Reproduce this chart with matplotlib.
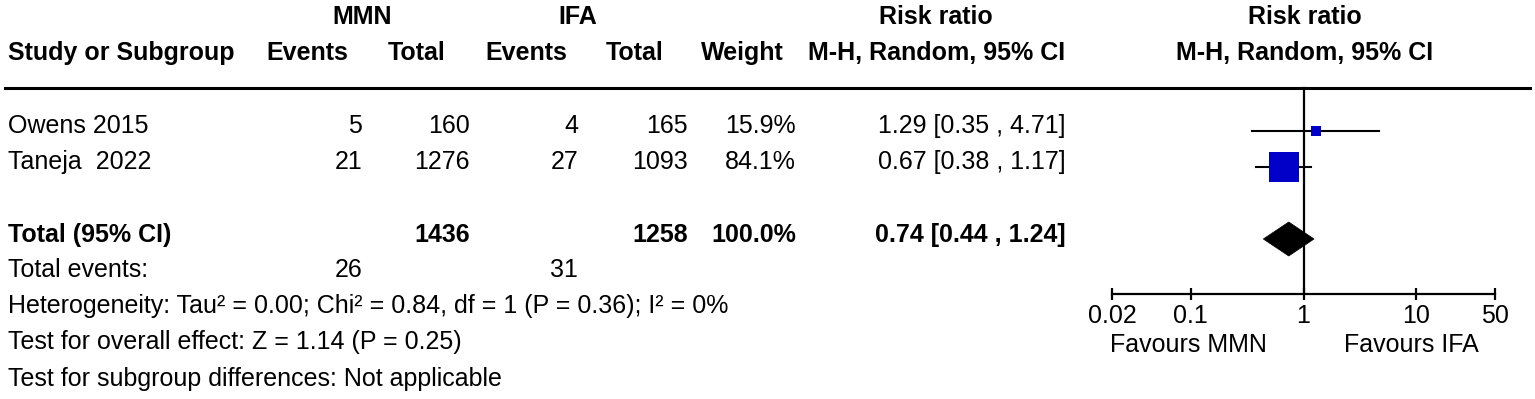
import matplotlib
matplotlib.use('Agg')
import matplotlib.pyplot as plt
from matplotlib.patches import Polygon

plt.rcParams['font.family'] = ['Liberation Sans', 'DejaVu Sans']
plt.rcParams['font.size'] = 18

# Study data
studies = ['Owens 2015', 'Taneja  2022']
mmn_events = [5, 21]
mmn_total = [160, 1276]
ifa_events = [4, 27]
ifa_total = [165, 1093]
weights = [15.9, 84.1]
rr = [1.29, 0.67]
rr_lo = [0.35, 0.38]
rr_hi = [4.71, 1.17]

# Pooled estimate
pooled = [0.74, 0.44, 1.24]
footer = ['Heterogeneity: Tau² = 0.00; Chi² = 0.84, df = 1 (P = 0.36); I² = 0%',
          'Test for overall effect: Z = 1.14 (P = 0.25)',
          'Test for subgroup differences: Not applicable']

ticks = [0.02, 0.1, 1, 10, 50]
tick_labels = ['0.02', '0.1', '1', '10', '50']

W, H = 1535, 399
BLUE = '#0000C8'

fig = plt.figure(figsize=(W / 100, H / 100), dpi=100)

# text layer in pixel coordinates
ax = fig.add_axes([0, 0, 1, 1])
ax.set_xlim(0, W)
ax.set_ylim(H, 0)
ax.axis('off')

# column positions (right edges for numbers, centres for headers)
col_right = [362, 470, 578, 688, 796, 1066]
col_head = [307, 417, 526, 635, 742, 937]
head2 = ['Events', 'Total', 'Events', 'Total', 'Weight', 'M-H, Random, 95% CI']

ax.text(362, 24, 'MMN', ha='center', fontweight='bold')
ax.text(578, 24, 'IFA', ha='center', fontweight='bold')
ax.text(936, 24, 'Risk ratio', ha='center', fontweight='bold')
ax.text(1305, 24, 'Risk ratio', ha='center', fontweight='bold')
ax.text(8, 60, 'Study or Subgroup', ha='left', fontweight='bold')
for x, t in zip(col_head, head2):
    ax.text(x, 60, t, ha='center', fontweight='bold')
ax.text(1305, 60, 'M-H, Random, 95% CI', ha='center', fontweight='bold')
ax.plot([5, 1530], [88, 88], color='black', lw=2.2)

row_y = [131, 167]
for i, name in enumerate(studies):
    yb = row_y[i] + 2
    ax.text(8, yb, name, ha='left')
    vals = [str(mmn_events[i]), str(mmn_total[i]), str(ifa_events[i]),
            str(ifa_total[i]), '{:.1f}%'.format(weights[i]),
            '{:.2f} [{:.2f} , {:.2f}]'.format(rr[i], rr_lo[i], rr_hi[i])]
    for x, v in zip(col_right, vals):
        ax.text(x, yb, v, ha='right')

total_y = 239
ax.text(8, total_y + 3, 'Total (95% CI)', ha='left', fontweight='bold')
ax.text(col_right[1], total_y + 3, str(sum(mmn_total)), ha='right', fontweight='bold')
ax.text(col_right[3], total_y + 3, str(sum(ifa_total)), ha='right', fontweight='bold')
ax.text(col_right[4], total_y + 3, '{:.1f}%'.format(sum(weights)), ha='right', fontweight='bold')
ax.text(col_right[5], total_y + 3, '{:.2f} [{:.2f} , {:.2f}]'.format(*pooled),
        ha='right', fontweight='bold')

ax.text(8, 277, 'Total events:', ha='left')
ax.text(col_right[0], 277, str(sum(mmn_events)), ha='right')
ax.text(col_right[2], 277, str(sum(ifa_events)), ha='right')
for yb, t in zip([313, 349, 386], footer):
    ax.text(8, yb, t, ha='left')

ax.text(1188, 352, 'Favours MMN', ha='center')
ax.text(1411, 352, 'Favours IFA', ha='center')

# forest plot, y in pixel units
x0, x1, y_top, y_axis = 1112, 1495, 88, 294
ax2 = fig.add_axes([x0 / W, 1 - y_axis / H, (x1 - x0) / W, (y_axis - y_top) / H])
ax2.set_xscale('log')
ax2.set_xlim(0.02, 50)
ax2.set_ylim(y_axis, y_top)
ax2.patch.set_alpha(0)
for s in ['top', 'left', 'right']:
    ax2.spines[s].set_visible(False)
ax2.spines['bottom'].set_linewidth(1.6)
ax2.set_yticks([])
ax2.set_xticks(ticks)
ax2.set_xticklabels(tick_labels)
ax2.minorticks_off()
ax2.tick_params(axis='x', direction='inout', length=9, width=1.6, pad=3, labelsize=18)
ax2.axvline(1, color='black', lw=1.6, clip_on=False)

for i in range(len(studies)):
    ax2.plot([rr_lo[i], rr_hi[i]], [row_y[i], row_y[i]], color='black', lw=1.5)
    size_px = 5.3 + 0.29 * weights[i]
    ax2.plot(rr[i], row_y[i], marker='s', ms=size_px * 0.72, color=BLUE,
             markeredgewidth=0, linestyle='none')

half = 17
diamond = Polygon([(pooled[1], total_y), (pooled[0], total_y - half),
                   (pooled[2], total_y), (pooled[0], total_y + half)],
                  closed=True, facecolor='black', edgecolor='black', lw=0.5)
ax2.add_patch(diamond)

fig.savefig('out.png', dpi=100)
